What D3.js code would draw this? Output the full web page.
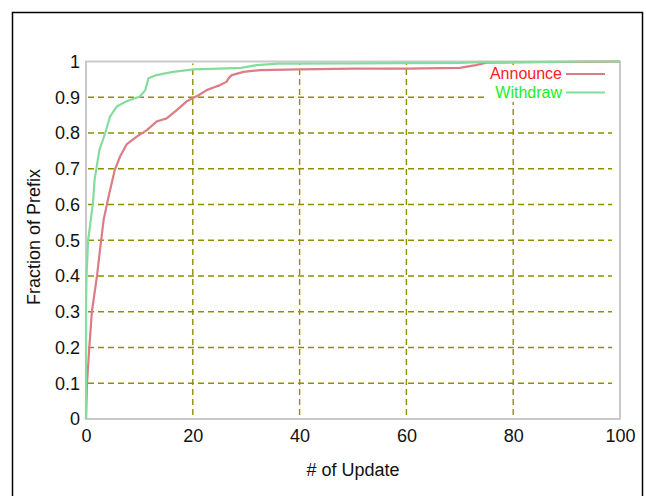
<!DOCTYPE html>
<html>
<head>
<meta charset="utf-8">
<script src="https://cdn.jsdelivr.net/npm/d3@7"></script>
<style>
  html, body { margin: 0; padding: 0; background: #fff; }
  svg { display: block; }
  text { font-family: "Liberation Sans", Arial, sans-serif; }
</style>
</head>
<body>
<script>
// CDF of per-prefix update counts
const announceX = [0, 0.19, 0.62, 1.1, 2.06, 2.6, 3.3, 4.2, 5.4, 6.4, 7.6, 9.5, 11.4, 13.2, 15.1, 17, 18.9, 20, 21, 22.6, 24, 25.1, 26.3, 26.8, 27.3, 29.5, 32.6, 40, 50, 60, 70, 73, 75, 100];
const announceY = [0, 0.1, 0.2, 0.3, 0.4, 0.47, 0.557, 0.62, 0.697, 0.735, 0.768, 0.79, 0.808, 0.832, 0.841, 0.864, 0.889, 0.898, 0.905, 0.92, 0.928, 0.934, 0.943, 0.955, 0.962, 0.971, 0.976, 0.978, 0.98, 0.98, 0.982, 0.99, 0.997, 1.0];

const withdrawX = [0, 0, 0.1, 0.4, 1.3, 1.6, 2.5, 3.6, 4.5, 5.75, 7.6, 10.1, 11.1, 11.7, 13.2, 16.3, 20.1, 25, 29, 32, 36, 50, 70, 74, 100];
const withdrawY = [0, 0.3, 0.4, 0.5, 0.603, 0.668, 0.752, 0.80, 0.846, 0.874, 0.889, 0.902, 0.92, 0.953, 0.962, 0.971, 0.978, 0.98, 0.982, 0.99, 0.994, 0.995, 0.996, 0.998, 1.0];

const xTicks = [0, 20, 40, 60, 80, 100];
const yTicks = [0, 0.1, 0.2, 0.3, 0.4, 0.5, 0.6, 0.7, 0.8, 0.9, 1];
const xGrid = [20, 40, 60, 80];
const yGrid = [0.1, 0.2, 0.3, 0.4, 0.5, 0.6, 0.7, 0.8, 0.9];

const seriesNames = ["Announce", "Withdraw"];
const seriesColors = ["#dc7c86", "#86dc9c"];
const labelColors = ["#ff2020", "#22ee22"];

const W = 647, H = 496;
const plot = { left: 86, right: 620, top: 61.5, bottom: 419 };

const svg = d3.select("body").append("svg").attr("width", W).attr("height", H);

const defs = svg.append("defs");
defs.append("filter").attr("id", "soft")
  .attr("filterUnits", "userSpaceOnUse")
  .attr("x", 0).attr("y", 0).attr("width", W).attr("height", H)
  .append("feGaussianBlur").attr("stdDeviation", 0.7);

// outer frame
svg.append("rect")
  .attr("x", 12.5).attr("y", 12.5)
  .attr("width", 630).attr("height", 500)
  .attr("fill", "#fff").attr("stroke", "#000").attr("stroke-width", 1.5);

const x = d3.scaleLinear().domain([0, 100]).range([plot.left, plot.right]);
const y = d3.scaleLinear().domain([0, 1]).range([plot.bottom, plot.top]);

// plot box
svg.append("rect")
  .attr("x", plot.left).attr("y", plot.top)
  .attr("width", plot.right - plot.left).attr("height", plot.bottom - plot.top)
  .attr("fill", "none").attr("stroke", "#c9c9c9").attr("stroke-width", 2)
  .attr("filter", "url(#soft)");

// grid
const grid = svg.append("g")
  .attr("stroke", "#8f8f00").attr("stroke-width", 1.4)
  .attr("stroke-dasharray", "6,4");
grid.selectAll("line.h").data(yGrid).join("line").attr("class", "h")
  .attr("x1", plot.left + 2).attr("x2", plot.right - 8)
  .attr("y1", d => y(d)).attr("y2", d => y(d));
grid.selectAll("line.v").data(xGrid).join("line").attr("class", "v")
  .attr("x1", d => x(d)).attr("x2", d => x(d))
  .attr("y1", plot.bottom - 4).attr("y2", plot.top + 2);

// axes (labels only; box drawn above)
const xAxis = svg.append("g").attr("transform", `translate(0,${plot.bottom})`)
  .call(d3.axisBottom(x).tickValues(xTicks).tickSize(0).tickPadding(10).tickFormat(d3.format("d")));
const yAxis = svg.append("g").attr("transform", `translate(${plot.left},0)`)
  .call(d3.axisLeft(y).tickValues(yTicks).tickSize(0).tickPadding(6).tickFormat(d => d === 0 || d === 1 ? d3.format("d")(d) : d3.format(".1f")(d)));
[xAxis, yAxis].forEach(a => {
  a.select(".domain").remove();
  a.selectAll("text").attr("font-size", 18).attr("fill", "#111")
    .attr("font-family", "'Liberation Sans', Arial, sans-serif");
});
xAxis.selectAll("text").attr("dy", "0.71em");

// axis titles
svg.append("text")
  .attr("x", (plot.left + plot.right) / 2).attr("y", 476)
  .attr("text-anchor", "middle").attr("font-size", 18).attr("fill", "#111")
  .text("# of Update");
svg.append("text")
  .attr("transform", "translate(40,237) rotate(-90)")
  .attr("text-anchor", "middle").attr("font-size", 18).attr("fill", "#111")
  .text("Fraction of Prefix");

// legend background
svg.append("rect")
  .attr("x", 487).attr("y", 66).attr("width", 128).attr("height", 36)
  .attr("fill", "#fff");

// curves
const line = d3.line().x(d => x(d[0])).y(d => y(d[1]));
const series = [
  d3.zip(announceX, announceY),
  d3.zip(withdrawX, withdrawY)
];
svg.append("g").attr("filter", "url(#soft)")
  .selectAll("path").data(series).join("path")
  .attr("d", line)
  .attr("fill", "none")
  .attr("stroke", (d, i) => seriesColors[i])
  .attr("stroke-width", 2.2)
  .attr("stroke-linejoin", "round");

// legend
const legendY = [74, 92.5];
const legend = svg.append("g");
seriesNames.forEach((name, i) => {
  legend.append("text")
    .attr("x", 562).attr("y", legendY[i] + 5)
    .attr("text-anchor", "end").attr("font-size", 16)
    .attr("fill", labelColors[i]).text(name);
  legend.append("line")
    .attr("x1", 566).attr("x2", 605)
    .attr("y1", legendY[i]).attr("y2", legendY[i])
    .attr("stroke", seriesColors[i]).attr("stroke-width", 2.2)
    .attr("filter", "url(#soft)");
});
</script>
</body>
</html>
